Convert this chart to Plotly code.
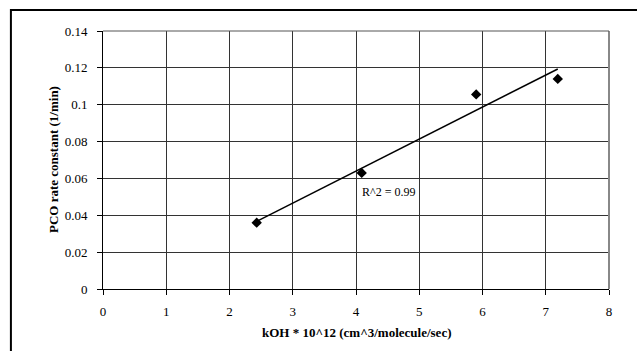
import numpy as np
import plotly.graph_objects as go

# Measured rate constants
koh = [2.43, 4.09, 5.90, 7.19]          # kOH * 10^12 (cm^3/molecule/sec)
pco_rate = [0.036, 0.063, 0.1056, 0.114]  # PCO rate constant (1/min)
r2_label = "R^2 = 0.99"

x_ticks = [0, 1, 2, 3, 4, 5, 6, 7, 8]
y_ticks = [0, 0.02, 0.04, 0.06, 0.08, 0.1, 0.12, 0.14]
y_tick_text = ["0", "0.02", "0.04", "0.06", "0.08", "0.1", "0.12", "0.14"]

x_title = "<b>kOH * 10^12 (cm^3/molecule/sec)</b>"
y_title = "<b>PCO rate constant (1/min)</b>"

# Least-squares trendline across the data range
slope, intercept = np.polyfit(koh, pco_rate, 1)
fit_x = [min(koh), max(koh)]
fit_y = [slope * v + intercept for v in fit_x]

font = "Liberation Serif"

fig = go.Figure()
fig.add_trace(go.Scatter(x=fit_x, y=fit_y, mode="lines",
                         line=dict(color="black", width=1.5),
                         hoverinfo="skip", showlegend=False))
fig.add_trace(go.Scatter(x=koh, y=pco_rate, mode="markers",
                         marker=dict(symbol="diamond", size=8, color="black"),
                         showlegend=False))

fig.add_annotation(x=4.06, y=0.0526, text=r2_label, showarrow=False,
                   xanchor="left", yanchor="middle",
                   font=dict(family=font, size=12, color="black"))

# Axis titles
fig.add_annotation(xref="paper", yref="paper", x=0.5, y=-0.1705,
                   text=x_title, showarrow=False,
                   xanchor="center", yanchor="middle",
                   font=dict(family=font, size=13, color="black"))
fig.add_annotation(xref="paper", yref="paper", x=-0.0988, y=0.5,
                   text=y_title, showarrow=False, textangle=-90,
                   xanchor="center", yanchor="middle",
                   font=dict(family=font, size=13, color="black"))

# Chart frame around the whole figure
fig.add_shape(type="rect", xref="paper", yref="paper",
              x0=-0.182, x1=1.3, y0=-0.4, y1=1.0814,
              line=dict(color="black", width=2), layer="below")

fig.update_xaxes(range=[0, 8], tickvals=x_ticks, showgrid=True,
                 gridcolor="#333333", gridwidth=1,
                 showline=True, linecolor="black", linewidth=1,
                 mirror=False, zeroline=False,
                 ticks="outside", ticklen=5, tickcolor="black",
                 ticklabelstandoff=5,
                 tickfont=dict(family=font, size=13, color="black"))
fig.update_yaxes(range=[0, 0.14], tickvals=y_ticks, ticktext=y_tick_text,
                 showgrid=True, gridcolor="#333333", gridwidth=1,
                 showline=True, linecolor="black", linewidth=1,
                 zeroline=False,
                 ticks="outside", ticklen=5, tickcolor="black",
                 ticklabelstandoff=7,
                 tickfont=dict(family=font, size=13, color="black"))

# Right and top edges of the plotting area
fig.add_shape(type="line", xref="paper", yref="paper", x0=1, x1=1, y0=0, y1=1,
              line=dict(color="#888888", width=2))
fig.add_shape(type="line", xref="paper", yref="paper", x0=0, x1=1, y0=1, y1=1,
              line=dict(color="#555555", width=1))

fig.update_layout(width=637, height=351,
                  margin=dict(l=103, r=28, t=31, b=62),
                  paper_bgcolor="white", plot_bgcolor="white",
                  font=dict(family=font, color="black"))

fig.write_html("out.html")
